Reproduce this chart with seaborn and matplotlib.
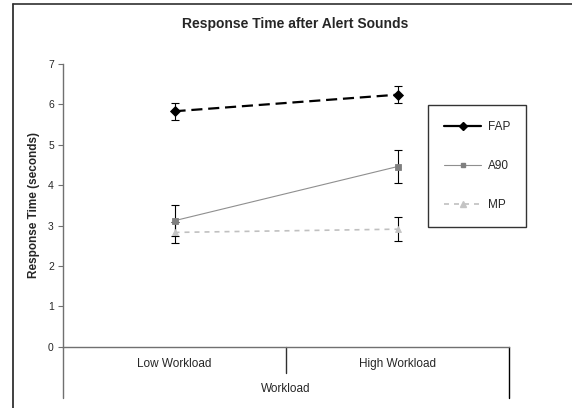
import numpy as np
import pandas as pd
import matplotlib
matplotlib.use("Agg")
import matplotlib.pyplot as plt
from matplotlib.lines import Line2D
import seaborn as sns

# ---- data ----
categories = ["Low Workload", "High Workload"]
series_names = ["FAP", "A90", "MP"]
fap_mean = [5.83, 6.24]
fap_err = [0.21, 0.21]
a90_mean = [3.12, 4.46]
a90_err = [0.39, 0.40]
mp_mean = [2.83, 2.91]
mp_err = [0.27, 0.29]
y_ticks = [0, 1, 2, 3, 4, 5, 6, 7]

sns.set_theme(style="white")
plt.rcParams["font.family"] = ["Liberation Sans", "DejaVu Sans"]

W, H = 572, 408
fig = plt.figure(figsize=(W / 100, H / 100), dpi=100)
fig.patch.set_facecolor("white")

left_px, right_px, top_px, bottom_px = 63, 509, 64, 346.7
ax = fig.add_axes([left_px / W, 1 - bottom_px / H,
                   (right_px - left_px) / W, (bottom_px - top_px) / H])
ax.set_facecolor("white")

pos = list(range(len(categories)))
df = pd.DataFrame({
    "pos": pos * 3,
    "value": fap_mean + a90_mean + mp_mean,
    "err": fap_err + a90_err + mp_err,
    "series": [s for s in series_names for _ in categories],
})

styles = {
    "FAP": dict(color="black", lw=1.6, ls=(0, (5, 2.6)), marker="D", ms=5.1,
                mfc="black", mec="black"),
    "A90": dict(color="#8f8f8f", lw=0.8, ls="-", marker="s", ms=3.8,
                mfc="#7f7f7f", mec="#7f7f7f"),
    "MP": dict(color="#c0c0c0", lw=1.2, ls=(0, (3, 3)), marker="^", ms=5.0,
               mfc="#c4c4c4", mec="#c4c4c4"),
}

for name in series_names:
    sub = df[df["series"] == name]
    st = styles[name]
    ax.errorbar(sub["pos"], sub["value"], yerr=sub["err"], fmt="none",
                ecolor="black", elinewidth=0.8, capsize=3.0, capthick=0.8,
                zorder=2)
    sns.lineplot(data=sub, x="pos", y="value", ax=ax, color=st["color"],
                 linewidth=st["lw"], linestyle=st["ls"], marker=st["marker"],
                 markersize=st["ms"], markerfacecolor=st["mfc"],
                 markeredgecolor=st["mec"], markeredgewidth=0.6,
                 label=name, zorder=3, legend=False, errorbar=None)

ax.set_xlim(-0.5, 1.5)
ax.set_ylim(0, 7)
ax.set_yticks(y_ticks)
ax.set_yticklabels([str(t) for t in y_ticks], fontsize=7.5)
ax.set_xticks(pos)
ax.set_xticklabels(categories, fontsize=8.5)
ax.tick_params(axis="x", length=0, pad=8)
ax.tick_params(axis="y", length=3.6, width=0.8, color="#707070", pad=3,
               direction="out", left=True)

for side in ["top", "right"]:
    ax.spines[side].set_visible(False)
for side in ["left", "bottom"]:
    ax.spines[side].set_color("#707070")
    ax.spines[side].set_linewidth(1.0)

ext_long = -(398 - bottom_px) / (bottom_px - top_px)
ext_short = -(373 - bottom_px) / (bottom_px - top_px)
ax.plot([0, 0], [0, ext_long], transform=ax.transAxes, clip_on=False,
        color="#707070", lw=1.0)
ax.plot([0.5, 0.5], [0, ext_short], transform=ax.transAxes, clip_on=False,
        color="#303030", lw=1.0)
ax.plot([1, 1], [0, ext_long], transform=ax.transAxes, clip_on=False,
        color="black", lw=1.0)

ax.set_xlabel("Workload", fontsize=8.5)
ax.xaxis.set_label_coords(0.5, -(383 - bottom_px) / (bottom_px - top_px))
ax.set_ylabel("Response Time (seconds)", fontsize=8.5, fontweight="bold")
ax.yaxis.label.set_va("center")
ax.yaxis.set_label_coords((34 - left_px) / (right_px - left_px), 0.5)

fig.suptitle("Response Time after Alert Sounds", x=295.5 / W, y=1 - 24 / H,
             va="center", fontsize=10, fontweight="bold")

handles = []
for name in series_names:
    st = styles[name]
    handles.append(Line2D([], [], color=st["color"], lw=st["lw"],
                          ls="-" if name == "FAP" else st["ls"],
                          marker=st["marker"],
                          ms=st["ms"] * (0.85 if name == "FAP" else 0.9),
                          mfc=st["mfc"], mec=st["mec"]))
leg = ax.legend(handles, series_names, loc="upper left",
                bbox_to_anchor=((428.5 - left_px) / (right_px - left_px),
                                (bottom_px - 105) / (bottom_px - top_px)),
                borderaxespad=0, fontsize=8.5, frameon=True, fancybox=False,
                handlelength=3.1, handletextpad=0.6, labelspacing=2.3,
                borderpad=1.35)
leg.get_frame().set_edgecolor("black")
leg.get_frame().set_linewidth(1.0)

fig.add_artist(Line2D([12.5 / W, 12.5 / W], [0, 1 - 4 / H], color="#202020",
                      lw=1.2, transform=fig.transFigure))
fig.add_artist(Line2D([12.5 / W, 1], [1 - 4 / H, 1 - 4 / H], color="#303030",
                      lw=1.2, transform=fig.transFigure))

fig.savefig("out.png", dpi=100)
